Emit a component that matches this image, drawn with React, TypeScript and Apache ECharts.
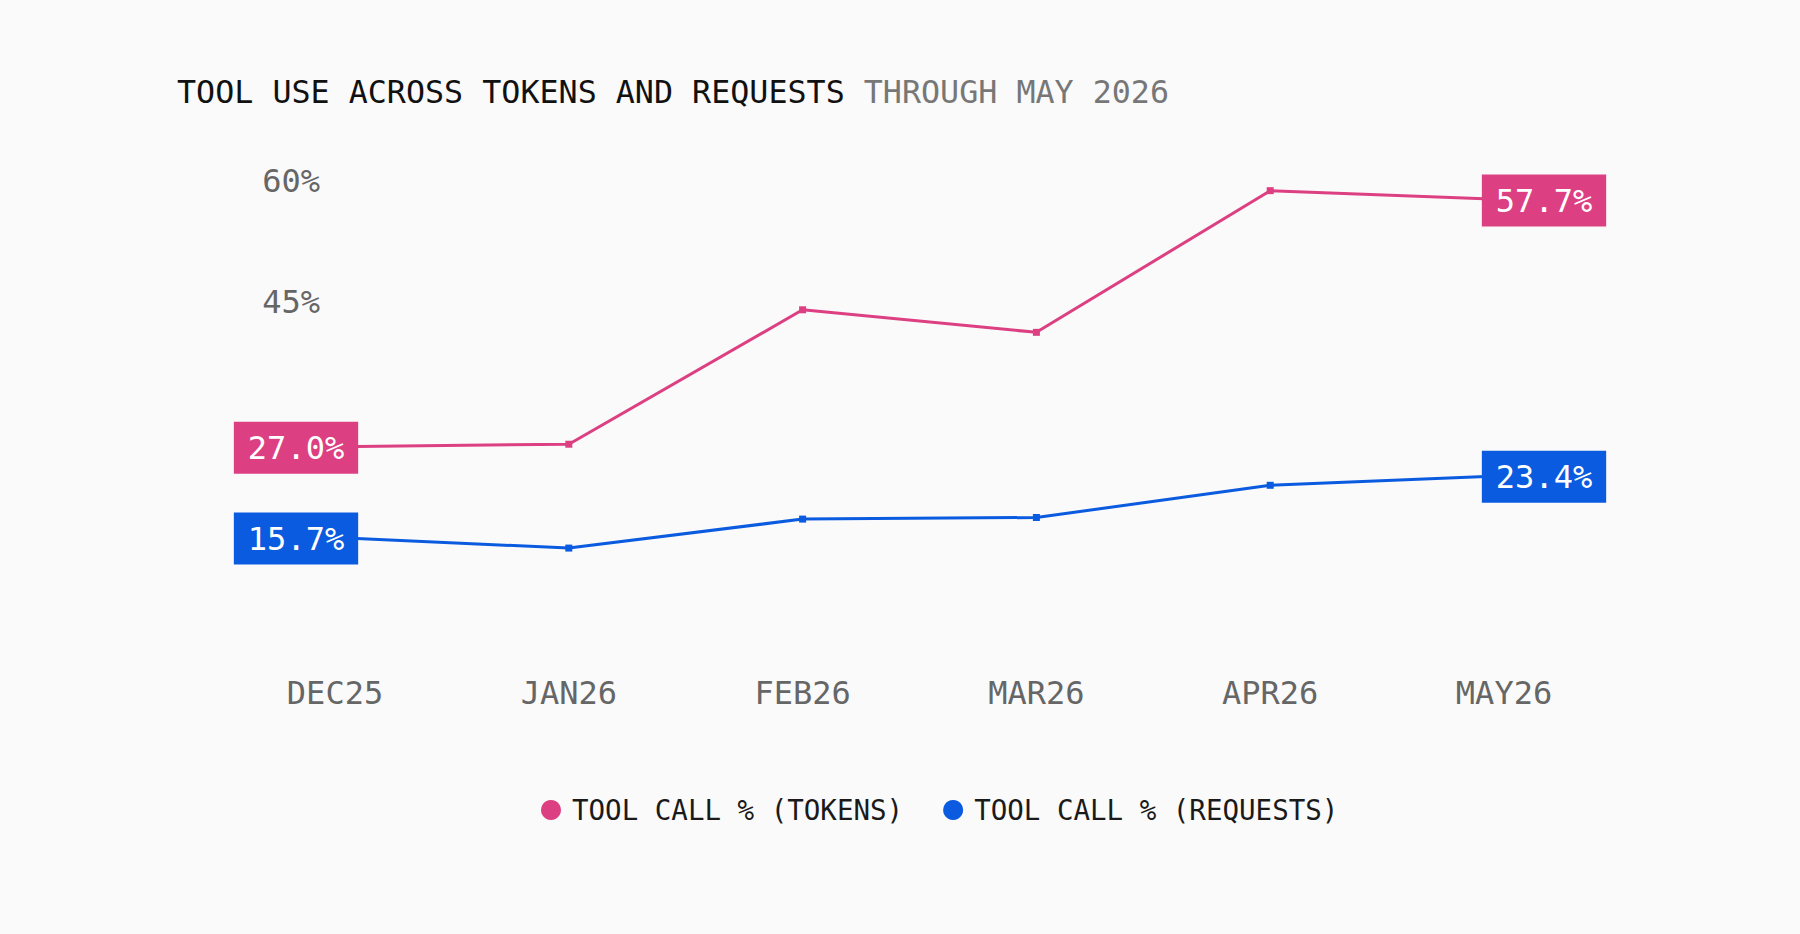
import { useEffect, useRef } from 'react'
import * as echarts from 'echarts'

const months = ['DEC25', 'JAN26', 'FEB26', 'MAR26', 'APR26', 'MAY26']
const tokensPct = [27.0, 27.3, 44.0, 41.2, 58.8, 57.7]
const requestsPct = [15.7, 14.4, 18.0, 18.2, 22.2, 23.4]
const seriesNames = ['TOOL CALL % (TOKENS)', 'TOOL CALL % (REQUESTS)']
const shownTicks = [45, 60]

const FONT = '"DejaVu Sans Mono", "Liberation Mono", monospace'
const PINK = '#DC4082'
const BLUE = '#0A5BDF'

// only first and last points carry the value box
function withEndLabels(values: number[], color: string) {
  const last = values.length - 1
  return values.map((v, i) => {
    if (i !== 0 && i !== last) return v
    return {
      value: v,
      label: {
        show: true,
        position: 'inside',
        offset: [i === 0 ? -39 : 40, 1],
        formatter: (p: any) => `${Number(p.value).toFixed(1)}%`,
        backgroundColor: color,
        color: '#ffffff',
        fontFamily: FONT,
        fontSize: 32,
        lineHeight: 32,
        padding: [10, 14],
      },
    }
  })
}

export default function App() {
  const chartRef = useRef<HTMLDivElement>(null)

  useEffect(() => {
    document.body.style.margin = '0'
    document.body.style.background = '#FAFAFA'
    if (!chartRef.current) return
    const chart = echarts.init(chartRef.current, undefined, { renderer: 'svg' })

    chart.setOption({
      animation: false,
      backgroundColor: '#FAFAFA',
      title: {
        left: 177,
        top: 76,
        padding: 0,
        text: '{a|TOOL USE ACROSS TOKENS AND REQUESTS }{b|THROUGH MAY 2026}',
        textStyle: {
          fontWeight: 'normal',
          rich: {
            a: { color: '#111111', fontFamily: FONT, fontSize: 31.7, lineHeight: 32, fontWeight: 'normal' },
            b: { color: '#777777', fontFamily: FONT, fontSize: 31.7, lineHeight: 32, fontWeight: 'normal' },
          },
        },
      },
      legend: {
        data: seriesNames,
        left: 541,
        top: 796,
        padding: 0,
        icon: 'circle',
        itemWidth: 20,
        itemHeight: 20,
        itemGap: 40,
        textStyle: {
          color: '#1a1a1a',
          fontFamily: FONT,
          fontSize: 27.5,
          padding: [0, 0, 0, 6],
        },
      },
      grid: {
        left: 335,
        right: 296,
        top: 181,
        bottom: 270,
      },
      xAxis: {
        type: 'category',
        data: months,
        boundaryGap: false,
        axisLine: { show: false },
        axisTick: { show: false },
        axisLabel: {
          color: '#666666',
          fontFamily: FONT,
          fontSize: 32,
          margin: 13,
        },
      },
      yAxis: {
        type: 'value',
        min: 0,
        max: 60,
        interval: 15,
        axisLine: { show: false },
        axisTick: { show: false },
        splitLine: { show: false },
        axisLabel: {
          color: '#666666',
          fontFamily: FONT,
          fontSize: 32,
          margin: 15,
          formatter: (v: number) => (shownTicks.includes(v) ? `${v}%` : ''),
        },
      },
      series: [
        {
          name: seriesNames[0],
          type: 'line',
          data: withEndLabels(tokensPct, PINK),
          symbol: 'rect',
          symbolSize: 7,
          showAllSymbol: true,
          lineStyle: { color: PINK, width: 3 },
          itemStyle: { color: PINK },
          emphasis: { disabled: true },
        },
        {
          name: seriesNames[1],
          type: 'line',
          data: withEndLabels(requestsPct, BLUE),
          symbol: 'rect',
          symbolSize: 7,
          showAllSymbol: true,
          lineStyle: { color: BLUE, width: 3 },
          itemStyle: { color: BLUE },
          emphasis: { disabled: true },
        },
      ],
    })

    const handleResize = () => chart.resize()
    window.addEventListener('resize', handleResize)
    return () => {
      window.removeEventListener('resize', handleResize)
      chart.dispose()
    }
  }, [])

  return <div ref={chartRef} style={{ width: '100%', height: 934 }} />
}
